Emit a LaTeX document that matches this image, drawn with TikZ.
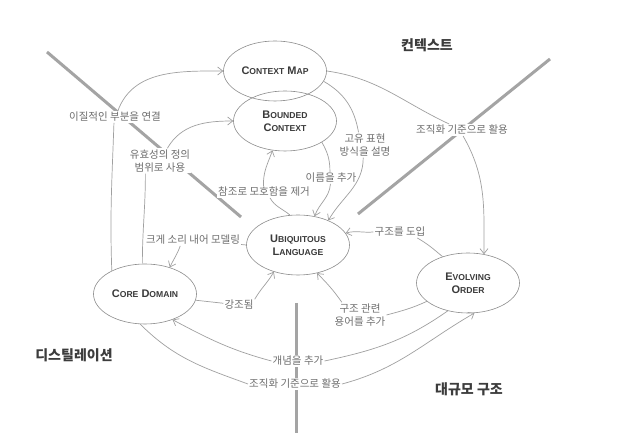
\documentclass[tikz,border=0pt]{standalone}
\usepackage{fontspec}
\setmainfont{Noto Sans CJK KR}
\newfontfamily\capfont{Liberation Sans}
\usetikzlibrary{arrows.meta,shapes.geometric}
\definecolor{edgegray}{HTML}{A0A0A0}
\definecolor{shapegray}{HTML}{8C8C8C}
\definecolor{nodetext}{HTML}{3A3A3A}
\definecolor{labelgray}{HTML}{6E6E6E}
\definecolor{regiongray}{HTML}{3C3C3C}
\definecolor{divgray}{HTML}{A4A4A4}
\newcommand{\sccap}[2]{#1{\fontsize{8.6}{13}\selectfont #2}}

\begin{document}
\begin{tikzpicture}[x=1pt, y=1pt,
  concept/.style={ellipse, draw=shapegray, line width=0.6pt, minimum width=103pt, minimum height=60pt, inner sep=0pt, align=center, text=nodetext, font=\capfont\bfseries\fontsize{11}{13}\selectfont},
  lbl/.style={fill=white, inner sep=1pt, align=center, text=labelgray, font=\fontsize{10.5}{13.5}\selectfont},
  region/.style={text=regiongray, font=\bfseries\fontsize{14}{16}\selectfont},
  divider/.style={line width=3pt, draw=divgray},
  link/.style={draw=edgegray, line width=0.7pt},
  arrow/.style={link, -{Straight Barb[length=5pt, width=8pt]}}
]
  \path[fill=white, use as bounding box] (0,0) rectangle (628,438);

  \coordinate (d1a) at (47,386);
  \coordinate (d1b) at (241,221);
  \coordinate (d2a) at (550,379);
  \coordinate (d2b) at (358,224);
  \coordinate (d3a) at (296,135);
  \coordinate (d3b) at (296,5);
  \draw[divider] (d1a) -- (d1b);
  \draw[divider] (d2a) -- (d2b);
  \draw[divider] (d3a) -- (d3b);

  \node[region] (ctxreg) at (427,393) {컨텍스트};
  \node[region] (distreg) at (74,83) {디스틸레이션};
  \node[region] (lsreg) at (469,49) {대규모 구조};

  \node[concept] (cm) at (275,367) {\sccap{C}{ONTEXT} \sccap{M}{AP}};
  \node[concept] (bc) at (285,317) {\sccap{B}{OUNDED}\\\sccap{C}{ONTEXT}};
  \node[concept] (ul) at (298,193) {\sccap{U}{BIQUITOUS}\\\sccap{L}{ANGUAGE}};
  \node[concept] (cd) at (145,144) {\sccap{C}{ORE} \sccap{D}{OMAIN}};
  \node[concept] (eo) at (468,155) {\sccap{E}{VOLVING}\\\sccap{O}{RDER}};

  \node[lbl] (connect) at (115,321) {이질적인 부분을 연결};
  \node[lbl] (validity) at (160,277) {유효성의 정의\\범위로 사용};
  \node[lbl] (ambig) at (264,246) {참조로 모호함을 제거};
  \node[lbl] (names) at (331,260) {이름을 추가};
  \node[lbl] (idiom) at (365,293) {고유 표현\\방식을 설명};
  \node[lbl] (orgtop) at (462,308) {조직화 기준으로 활용};
  \node[lbl] (modeling) at (193,198) {크게 소리 내어 모델링};
  \node[lbl] (struct) at (400,206) {구조를 도입};
  \node[lbl] (emph) at (239,133) {강조됨};
  \node[lbl] (structterms) at (360,123) {구조 관련\\용어를 추가};
  \node[lbl] (concepts) at (298,77) {개념을 추가};
  \node[lbl] (orgbot) at (295,54) {조직화 기준으로 활용};

  \draw[link] (cd.145) to[out=92, in=-92] (connect.-100);
  \draw[arrow] (connect.65) to[out=70, in=180] (cm.west);

  \draw[link] (cd.95) to[out=90, in=-90] (validity.-139);
  \draw[arrow] (validity.60) to[out=60, in=180] (bc.west);

  \draw[link] (ul.105) to[out=140, in=-60] (ambig.-45);
  \draw[arrow] (ambig.95) to[out=92, in=-110] (bc.-113);

  \draw[link] (bc.-30) to[out=-60, in=90] (names.100);
  \draw[arrow] (names.-95) to[out=-95, in=70] (ul.60);

  \draw[link] (cm.-12) to[out=-30, in=100] (idiom.117);
  \draw[arrow] (idiom.-98) to[out=-90, in=60] (ul.39);

  \draw[link] (cm.east) to[out=-8, in=155] (orgtop.155);
  \draw[arrow] (orgtop.-80) to[out=-60, in=90] (eo.61);

  \draw[link] (eo.134) to[out=140, in=-30] (struct.-19);
  \draw[arrow] (struct.west) to[out=185, in=15] (ul.14);

  \draw[link] (ul.180) -- (modeling);
  \draw[arrow] (modeling.-155) to[out=-110, in=65] (cd.47);

  \draw[link] (cd.-7) -- (emph);
  \draw[arrow] (emph.20) to[out=60, in=-120] (ul.-132);

  \draw[link] (eo.-156) to[out=-155, in=15] (structterms.east);
  \draw[arrow] (structterms.145) to[out=125, in=-45] (ul.-56);

  \draw[link] (eo.-126) to[out=-145, in=12] (concepts.east);
  \draw[arrow] (concepts.west) to[out=165, in=-28] (cd.-43);

  \draw[link] (cd.-99) to[out=-45, in=160] (orgbot.west);
  \draw[arrow] (orgbot.east) to[out=15, in=-150] (eo.-78);
\end{tikzpicture}
\end{document}
